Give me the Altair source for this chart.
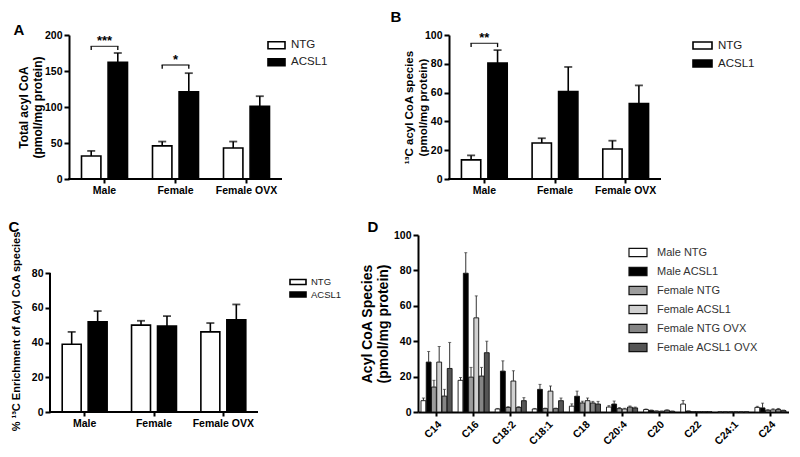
import altair as alt
import pandas as pd

FONT = "Liberation Sans"

# ---------------- data ----------------
groups = ["Male", "Female", "Female OVX"]
series = ["NTG", "ACSL1"]

# Panel A: total acyl CoA (mean, SEM)
a_ntg = [32, 46, 43]
a_ntg_sem = [7, 6, 9]
a_acsl = [162, 121, 101]
a_acsl_sem = [13, 26, 14]
a_sig_groups = ["Male", "Female"]
a_sig_low = [179, 153]
a_sig_high = [184.3, 158.3]
a_sig_text = ["***", "*"]

# Panel B: 13C acyl CoA species
b_ntg = [13.3, 25.0, 20.8]
b_ntg_sem = [3.1, 3.3, 5.8]
b_acsl = [80.6, 60.8, 52.4]
b_acsl_sem = [8.9, 17.0, 12.6]
b_sig_groups = ["Male"]
b_sig_low = [91.6]
b_sig_high = [94.2]
b_sig_text = ["**"]

# Panel C: % 13C enrichment
c_ntg = [39.0, 50.0, 46.1]
c_ntg_sem = [7.1, 2.5, 5.1]
c_acsl = [51.9, 49.4, 53.1]
c_acsl_sem = [6.2, 5.8, 8.8]

# Panel D: acyl CoA species
species = ["C14", "C16", "C18:2", "C18:1", "C18", "C20:4", "C20", "C22", "C24:1", "C24"]
d_groups = ["Male NTG", "Male ACSL1", "Female NTG", "Female ACSL1",
            "Female NTG OVX", "Female ACSL1 OVX"]
d_colors = ["white", "black", "#9c9c9c", "#d0d0d0", "#858585", "#555555"]
male_ntg = [6.4, 17.9, 1.7, 1.7, 3.3, 2.8, 1.4, 4.5, 0, 2.6]
male_ntg_sem = [1.5, 1.6, 0.3, 0.3, 1.3, 0.8, 0.3, 2.0, 0, 0.6]
male_acsl = [28.2, 78.4, 23.1, 12.8, 8.9, 4.5, 0.9, 0.5, 0, 2.3]
male_acsl_sem = [6.0, 11.6, 5.8, 2.8, 2.9, 1.7, 0.2, 0.1, 0, 2.7]
fem_ntg = [14.1, 19.7, 2.6, 1.9, 5.1, 1.9, 0.5, 0.2, 0, 1.0]
fem_ntg_sem = [3.8, 5.5, 0.4, 0.3, 1.0, 0.6, 0.1, 0.05, 0, 0.3]
fem_acsl = [28.2, 53.2, 17.5, 11.8, 6.4, 1.7, 0.4, 0.2, 0, 1.2]
fem_acsl_sem = [8.8, 12.4, 5.8, 2.9, 1.5, 0.4, 0.1, 0.05, 0, 0.6]
fem_ntg_ovx = [9.0, 20.3, 2.6, 1.9, 5.1, 2.8, 1.0, 0.2, 0, 1.5]
fem_ntg_ovx_sem = [3.8, 4.9, 0.4, 0.3, 0.9, 0.6, 0.2, 0.05, 0, 0.5]
fem_acsl_ovx = [24.6, 33.5, 6.4, 6.4, 4.5, 2.3, 0.4, 0.2, 0, 0.8]
fem_acsl_ovx_sem = [14.7, 6.5, 1.7, 1.5, 1.5, 0.5, 0.1, 0.05, 0, 0.3]


# ---------------- helpers ----------------
def bars_df(ntg, ntg_s, ac, ac_s):
    rows = []
    for i, g in enumerate(groups):
        rows.append(dict(grp=g, series="NTG", val=ntg[i], hi=ntg[i] + ntg_s[i]))
        rows.append(dict(grp=g, series="ACSL1", val=ac[i], hi=ac[i] + ac_s[i]))
    return pd.DataFrame(rows)


ONE = pd.DataFrame(dict(k=[0]))
COL1_W = 232
ROW1_H, ROW2_H = 144, 177


def group_panel(df, ymax, yticks, ytitle, W, H, plot_w, left_gap, letter, letter_xy,
                title_pad, title_size, legend_xy, legend_font, legend_rowpad,
                legend_path, legend_size, legend_lab_off, axis_top=None,
                sig=None, title_y=None):
    right_gap = W - left_gap - plot_w
    step = plot_w / 3.0
    gaps = left_gap + right_gap
    sc_kw = dict(type="band", domain=groups, paddingInner=0,
                 paddingOuter=gaps / (2 * step),
                 align=(left_gap / gaps) if gaps > 0 else 0.5)
    xenc = alt.X("grp:N", sort=groups, scale=alt.Scale(**sc_kw),
                 axis=alt.Axis(title=None, labelAngle=0, labelFontWeight="bold",
                               labelFontSize=10.5, tickSize=4, tickWidth=2,
                               labelPadding=2, domain=False))
    # bars inside each group: two slots, 27% gap between them, 47% outer padding
    ostep = step / (2 - 0.27 + 2 * 0.47)
    bw = ostep * (1 - 0.27)
    offs = [-ostep / 2, ostep / 2]
    ax_kw = dict(values=yticks, title=ytitle, labelFontWeight="bold",
                 labelFontSize=10.5, tickSize=5, tickWidth=2, domainWidth=2,
                 titleFontWeight="bold", titleFontSize=title_size,
                 titlePadding=title_pad, labelPadding=2, offset=-left_gap)
    if title_y is not None:
        ax_kw["titleY"] = title_y
    if axis_top is not None:
        ax_kw["domain"] = False
    yax = alt.Axis(**ax_kw)
    ysc = alt.Scale(domain=[0, ymax], nice=False, zero=True)
    fill = alt.Fill("series:N", sort=series,
                    scale=alt.Scale(domain=series, range=["white", "black"]),
                    legend=alt.Legend(title=None, orient="none",
                                      legendX=legend_xy[0], legendY=legend_xy[1],
                                      symbolType=legend_path, symbolSize=legend_size,
                                      symbolStrokeColor="black", symbolStrokeWidth=1.6,
                                      labelFont=FONT, labelFontSize=legend_font,
                                      labelColor="#222", labelOffset=legend_lab_off,
                                      rowPadding=legend_rowpad))
    layers = []
    for s, off in zip(series, offs):
        sub = alt.Chart(df).transform_filter(alt.datum.series == s)
        layers.append(sub.mark_bar(stroke="black", strokeWidth=1.6, width=bw, xOffset=off).encode(
            x=xenc, y=alt.Y("val:Q", scale=ysc, axis=yax), fill=fill))
        layers.append(sub.mark_rule(color="black", strokeWidth=1.6, xOffset=off).encode(
            x=xenc, y=alt.Y("val:Q", scale=ysc, axis=yax), y2="hi:Q"))
        layers.append(sub.mark_tick(color="black", thickness=1.8, size=8, xOffset=off).encode(
            x=xenc, y=alt.Y("hi:Q", scale=ysc, axis=yax)))
    if sig is not None:
        sg, lo, hi, txt = sig
        sdf = pd.DataFrame(dict(grp=sg, lo=lo, hi=hi, t=txt))
        sc = alt.Chart(sdf)
        for off in offs:
            layers.append(sc.mark_rule(color="black", strokeWidth=1.3, xOffset=off).encode(
                x=xenc, y=alt.Y("lo:Q", scale=ysc, axis=yax), y2="hi:Q"))
        layers.append(sc.mark_tick(color="black", thickness=1.3, size=ostep + 1.3).encode(
            x=xenc, y=alt.Y("hi:Q", scale=ysc, axis=yax)))
        layers.append(sc.mark_text(fontSize=13, fontWeight="bold", baseline="alphabetic",
                                   dy=-1.5).encode(
            x=xenc, y=alt.Y("hi:Q", scale=ysc, axis=yax), text="t:N"))
    if axis_top is not None:
        layers.append(alt.Chart(pd.DataFrame(dict(lo=[0], top=[axis_top]))).mark_rule(
            color="black", strokeWidth=2).encode(
            x=alt.value(left_gap), y=alt.Y("lo:Q", scale=ysc, axis=yax), y2="top:Q"))
    # x axis baseline spanning only the plot
    layers.append(alt.Chart(ONE).mark_rule(color="black", strokeWidth=2).encode(
        x=alt.value(left_gap - 1), x2=alt.value(left_gap + plot_w), y=alt.value(H)))
    layers.append(alt.Chart(pd.DataFrame(dict(t=[letter]))).mark_text(
        fontSize=15, fontWeight="bold", align="center", baseline="middle").encode(
        text="t:N", x=alt.value(letter_xy[0]), y=alt.value(letter_xy[1])))
    return alt.layer(*layers).properties(width=W, height=H)


pa = group_panel(bars_df(a_ntg, a_ntg_sem, a_acsl, a_acsl_sem), 200, [0, 50, 100, 150, 200],
                 ["Total acyl CoA", "(pmol/mg protein)"], COL1_W, ROW1_H, 213, 19, "A", (-31, -5),
                 0, 12, (217, 0.7), 11.5, 0, "M-1,-0.41H1V0.41H-1Z", 289, 5,
                 sig=(a_sig_groups, a_sig_low, a_sig_high, a_sig_text))

pb = group_panel(bars_df(b_ntg, b_ntg_sem, b_acsl, b_acsl_sem), 100, [0, 20, 40, 60, 80, 100],
                 ["¹³C acyl CoA species", "(pmol/mg protein)"], 243, ROW1_H, 212, 31, "B",
                 (-22, -18), -4, 11.5, (274, 0), 11.5, -1, "M-1,-0.37H1V0.37H-1Z", 361, 5,
                 sig=(b_sig_groups, b_sig_low, b_sig_high, b_sig_text))

pc = group_panel(bars_df(c_ntg, c_ntg_sem, c_acsl, c_acsl_sem), 80 * ROW2_H / 139,
                 [0, 20, 40, 60, 80], "% ¹³C Enrichment of Acyl CoA species",
                 COL1_W, ROW2_H, 208, 0, "C", (-36, -8),
                 10, 11, (243, 42), 9.5, 0.5, "M-2,-0.62H2V0.62H-2Z", 64, 8, axis_top=80,
                 title_y=96)

# Panel D
d_rows = []
d_lists = [(male_ntg, male_ntg_sem), (male_acsl, male_acsl_sem), (fem_ntg, fem_ntg_sem),
           (fem_acsl, fem_acsl_sem), (fem_ntg_ovx, fem_ntg_ovx_sem), (fem_acsl_ovx, fem_acsl_ovx_sem)]
for gname, (vals, sems) in zip(d_groups, d_lists):
    for sp, v, s in zip(species, vals, sems):
        d_rows.append(dict(sp=sp, g=gname, val=v, hi=v + s))
ddf = pd.DataFrame(d_rows)

DW, DH = 371, ROW2_H
dstep = DW / 10.0
d_ostep = dstep / (6 - 0.08 + 2 * 0.57)
d_bw = d_ostep * (1 - 0.08)
dx = alt.X("sp:N", sort=species,
           scale=alt.Scale(type="band", domain=species, paddingInner=0, paddingOuter=0),
           axis=alt.Axis(title=None, labelAngle=-45, labelAlign="right", labelBaseline="top",
                         labelFontWeight="bold", labelFontSize=10.5, tickSize=4, tickWidth=2,
                         domainWidth=2, labelPadding=3))
dyax = alt.Axis(values=[0, 20, 40, 60, 80, 100], title=["Acyl CoA Species", "(pmol/mg protein)"],
                labelFontWeight="bold", labelFontSize=10.5, tickSize=5, tickWidth=2,
                domainWidth=2, titleFontWeight="bold", titleFontSize=14, titlePadding=3,
                labelPadding=2)
dysc = alt.Scale(domain=[0, 100], nice=False)
dfill = alt.Fill("g:N", sort=d_groups, scale=alt.Scale(domain=d_groups, range=d_colors),
                 legend=alt.Legend(title=None, orient="none", legendX=210, legendY=7.5,
                                   symbolType="M-1,-0.45H1V0.45H-1Z", symbolSize=324,
                                   symbolStrokeColor="#111", symbolStrokeWidth=1.2,
                                   labelFont=FONT, labelFontSize=11, labelColor="#333",
                                   labelOffset=9, rowPadding=2)
                 )
d_layers = []
for k, gname in enumerate(d_groups):
    off = (k - 2.5) * d_ostep
    sub = alt.Chart(ddf).transform_filter(alt.datum.g == gname)
    d_layers.append(sub.mark_bar(stroke="#111", strokeWidth=0.9, width=d_bw, xOffset=off).encode(
        x=dx, y=alt.Y("val:Q", scale=dysc, axis=dyax), fill=dfill))
    d_layers.append(sub.mark_rule(color="#333", strokeWidth=1, xOffset=off).encode(
        x=dx, y=alt.Y("val:Q", scale=dysc, axis=dyax), y2="hi:Q"))
    d_layers.append(sub.mark_tick(color="#333", thickness=1, size=3, xOffset=off).encode(
        x=dx, y=alt.Y("hi:Q", scale=dysc, axis=dyax)))
d_layers.append(alt.Chart(pd.DataFrame(dict(t=["D"]))).mark_text(
    fontSize=15, fontWeight="bold", align="center", baseline="middle").encode(
    text="t:N", x=alt.value(-45), y=alt.value(-8)))
pdd = alt.layer(*d_layers).properties(width=DW, height=DH)

chart = (alt.concat(pa, pb, pc, pdd, columns=2, spacing={"row": 56, "column": 136},
                    bounds="flush")
         .resolve_scale(fill="independent").resolve_legend(fill="independent")
         .properties(padding={"left": 0, "top": 2, "right": 0, "bottom": 0})
         .configure(font=FONT)
         .configure_view(strokeWidth=0)
         .configure_axis(domainColor="black", tickColor="black", labelColor="black",
                         titleColor="black", grid=False, labelFont=FONT, titleFont=FONT))

chart.save("out.html", embed_options={"renderer": "svg", "actions": False})
